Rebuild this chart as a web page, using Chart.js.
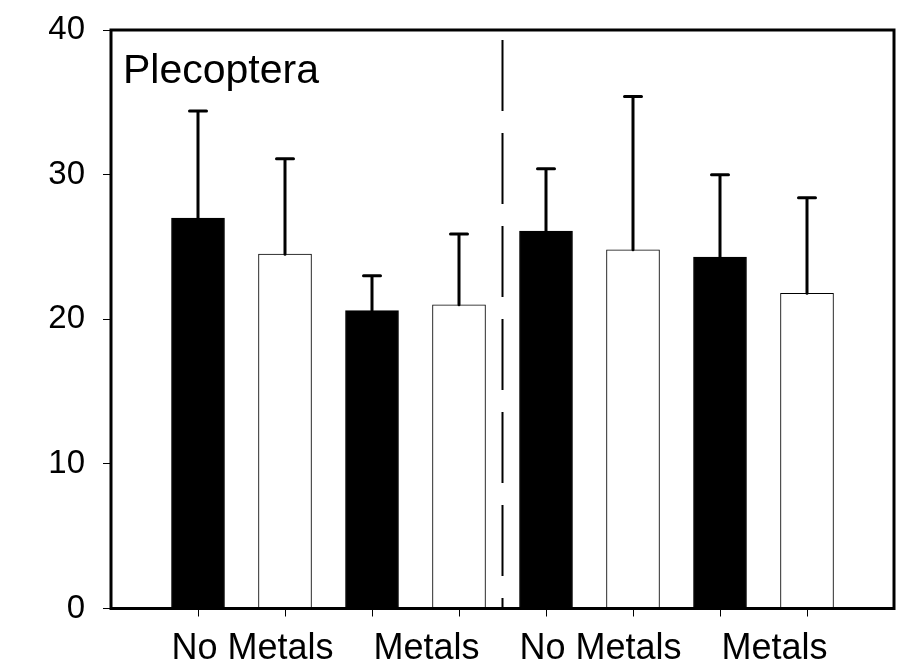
<!DOCTYPE html>
<html>
<head>
<meta charset="utf-8">
<script src="https://cdn.jsdelivr.net/npm/chart.js@4.4.0/dist/chart.umd.min.js"></script>
<style>
  html, body { margin: 0; padding: 0; background: #fff; }
</style>
</head>
<body>
<canvas id="chart" width="900" height="668"></canvas>
<script>
// values
const panelTitle = "Plecoptera";
const groupLabels = ["No Metals", "Metals", "No Metals", "Metals"];
const means = [27.0, 24.5, 20.6, 21.0, 26.1, 24.8, 24.3, 21.8];
const errors = [7.4, 6.6, 2.4, 4.9, 4.3, 10.6, 5.7, 6.6];
const yTicks = [0, 10, 20, 30, 40];
const dividerAt = 4.5; // between the two halves

const FONT = "'Liberation Sans', Arial, sans-serif";

// black bar first, white bar second in every pair
const barColors = means.map((_, i) => i % 2 === 0 ? "#000" : "#fff");

const errorBars = {
    id: "errorBars",
    afterDatasetsDraw(chart) {
        const ctx = chart.ctx;
        const xs = chart.scales.x;
        const ys = chart.scales.y;
        ctx.save();
        ctx.strokeStyle = "#000";
        ctx.lineWidth = 3;
        ctx.lineCap = "round";
        means.forEach((m, i) => {
            const x = xs.getPixelForValue(i + 1);
            const y0 = ys.getPixelForValue(m);
            const y1 = ys.getPixelForValue(m + errors[i]);
            ctx.beginPath();
            ctx.moveTo(x, y0);
            ctx.lineTo(x, y1);
            ctx.moveTo(x - 8.5, y1);
            ctx.lineTo(x + 8.5, y1);
            ctx.stroke();
        });
        ctx.restore();
    }
};

const frame = {
    id: "frame",
    afterDraw(chart) {
        const ctx = chart.ctx;
        const a = chart.chartArea;
        ctx.save();

        // dashed divider
        const dx = chart.scales.x.getPixelForValue(dividerAt);
        ctx.strokeStyle = "#000";
        ctx.lineWidth = 2;
        ctx.setLineDash([71, 22]);
        ctx.beginPath();
        ctx.moveTo(dx, a.top + 10);
        ctx.lineTo(dx, a.bottom);
        ctx.stroke();
        ctx.setLineDash([]);

        // box round the plot
        ctx.lineWidth = 3;
        ctx.strokeRect(a.left, a.top, a.right - a.left, a.bottom - a.top);

        // panel name
        ctx.fillStyle = "#000";
        ctx.font = "41px " + FONT;
        ctx.textBaseline = "alphabetic";
        ctx.textAlign = "left";
        ctx.fillText(panelTitle, a.left + 12, a.top + 53);
        ctx.restore();
    }
};

new Chart(document.getElementById("chart"), {
    type: "bar",
    data: {
        datasets: [{
            data: means.map((m, i) => ({ x: i + 1, y: m })),
            backgroundColor: barColors,
            borderColor: "#000",
            borderWidth: 1,
            borderSkipped: false,
            barThickness: 53
        }]
    },
    options: {
        responsive: false,
        animation: false,
        devicePixelRatio: 1,
        layout: { padding: { top: 30, right: 6, left: 0, bottom: 0 } },
        plugins: {
            legend: { display: false },
            tooltip: { enabled: false }
        },
        scales: {
            x: {
                type: "linear",
                min: 0,
                max: 9,
                offset: false,
                weight: 0,
                afterBuildTicks: s => { s.ticks = means.map((_, i) => ({ value: i + 1 })); },
                afterFit: s => { s.height = 8; },
                ticks: { display: false },
                grid: { offset: false, drawOnChartArea: false, drawTicks: true, tickLength: 8, color: "#000", lineWidth: 1 },
                border: { display: false }
            },
            x2: {
                type: "linear",
                position: "bottom",
                min: 0,
                max: 9,
                offset: false,
                weight: 1,
                afterBuildTicks: s => { s.ticks = groupLabels.map((_, i) => ({ value: 2 * i + 1.5 })); },
                afterFit: s => { s.height = 51.5; s.paddingLeft = 0; s.paddingRight = 0; },
                ticks: {
                    callback: (v, i) => groupLabels[i],
                    font: { size: 36, family: FONT },
                    color: "#000",
                    padding: 11,
                    labelOffset: 11,
                    autoSkip: false,
                    maxRotation: 0
                },
                grid: { display: false, drawTicks: false },
                border: { display: false }
            },
            y: {
                min: 0,
                max: 40,
                afterBuildTicks: s => { s.ticks = yTicks.map(v => ({ value: v })); },
                afterFit: s => { s.width = 111; s.paddingTop = 0; s.paddingBottom = 0; },
                ticks: {
                    font: { size: 33, family: FONT },
                    color: "#000",
                    padding: 18
                },
                grid: { drawOnChartArea: false, drawTicks: true, tickLength: 8, color: "#000", lineWidth: 1 },
                border: { display: false }
            }
        }
    },
    plugins: [errorBars, frame]
});
</script>
</body>
</html>
